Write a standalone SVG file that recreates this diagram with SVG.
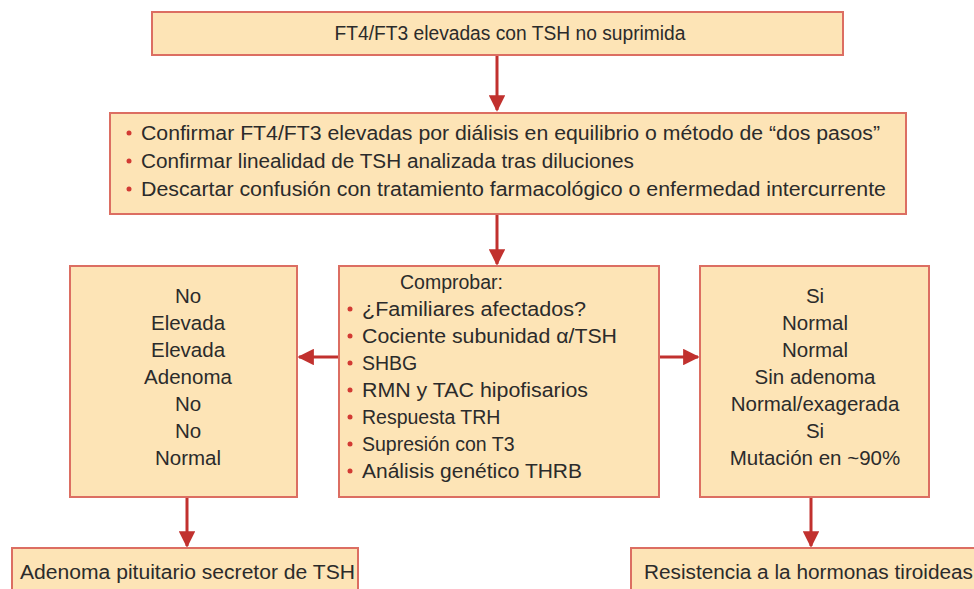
<svg xmlns="http://www.w3.org/2000/svg" width="974" height="589" viewBox="0 0 974 589">
<style>
.box{fill:#FDE4B6;stroke:#DC6E62;stroke-width:2}
.t{font-family:"Liberation Sans",Arial,sans-serif;font-size:19.5px;fill:#2b2b2b}
.s{font-size:20.5px}
.c{text-anchor:middle}
.b{fill:#D23A33}
.con line{stroke:#C1312E;stroke-width:3}
</style>
<defs>
<marker id="ah" viewBox="0 0 10 10" refX="9" refY="5" markerWidth="5.5" markerHeight="5.5" orient="auto" markerUnits="strokeWidth">
<path d="M0,0 L10,5 L0,10 z" fill="#C1312E"/>
</marker>
</defs>
<rect width="974" height="589" fill="#ffffff"/>
<g class="con">
<line x1="497" y1="55" x2="497" y2="110" marker-end="url(#ah)"/>
<line x1="497" y1="214" x2="497" y2="264" marker-end="url(#ah)"/>
<line x1="339" y1="357" x2="299" y2="357" marker-end="url(#ah)"/>
<line x1="659" y1="357" x2="698" y2="357" marker-end="url(#ah)"/>
<line x1="187" y1="497" x2="187" y2="546" marker-end="url(#ah)"/>
<line x1="811" y1="497" x2="811" y2="546" marker-end="url(#ah)"/>
</g>
<g id="n1">
<rect class="box" x="152" y="12" width="691" height="43"/>
<text class="t c" x="510" y="40" textLength="351" lengthAdjust="spacingAndGlyphs">FT4/FT3 elevadas con TSH no suprimida</text>
</g>
<g id="n2">
<rect class="box" x="110" y="113" width="796" height="101"/>
<circle class="b" cx="129" cy="133" r="2.5"/>
<circle class="b" cx="129" cy="161" r="2.5"/>
<circle class="b" cx="129" cy="189" r="2.5"/>
<text class="t" x="141" y="140" textLength="739" lengthAdjust="spacingAndGlyphs">Confirmar FT4/FT3 elevadas por diálisis en equilibrio o método de “dos pasos”</text>
<text class="t" x="141" y="168" textLength="493" lengthAdjust="spacingAndGlyphs">Confirmar linealidad de TSH analizada tras diluciones</text>
<text class="t" x="141" y="196" textLength="745" lengthAdjust="spacingAndGlyphs">Descartar confusión con tratamiento farmacológico o enfermedad intercurrente</text>
</g>
<g id="n3">
<rect class="box" x="70" y="266" width="227" height="231"/>
<text class="t s c" x="188" y="303">No</text>
<text class="t s c" x="188" y="330">Elevada</text>
<text class="t s c" x="188" y="357">Elevada</text>
<text class="t s c" x="188" y="384">Adenoma</text>
<text class="t s c" x="188" y="411">No</text>
<text class="t s c" x="188" y="438">No</text>
<text class="t s c" x="188" y="465">Normal</text>
</g>
<g id="n4">
<rect class="box" x="339" y="266" width="320" height="231"/>
<text class="t" x="400" y="289">Comprobar:</text>
<circle class="b" cx="350" cy="309" r="2.5"/>
<circle class="b" cx="350" cy="336" r="2.5"/>
<circle class="b" cx="350" cy="363" r="2.5"/>
<circle class="b" cx="350" cy="390" r="2.5"/>
<circle class="b" cx="350" cy="417" r="2.5"/>
<circle class="b" cx="350" cy="444" r="2.5"/>
<circle class="b" cx="350" cy="471" r="2.5"/>
<text class="t" x="362" y="316" textLength="224" lengthAdjust="spacingAndGlyphs">¿Familiares afectados?</text>
<text class="t" x="362" y="343" textLength="255" lengthAdjust="spacingAndGlyphs">Cociente subunidad α/TSH</text>
<text class="t" x="362" y="370">SHBG</text>
<text class="t" x="362" y="397" textLength="226" lengthAdjust="spacingAndGlyphs">RMN y TAC hipofisarios</text>
<text class="t" x="362" y="424">Respuesta TRH</text>
<text class="t" x="362" y="451">Supresión con T3</text>
<text class="t" x="362" y="478" textLength="220" lengthAdjust="spacingAndGlyphs">Análisis genético THRB</text>
</g>
<g id="n5">
<rect class="box" x="700" y="266" width="229" height="231"/>
<text class="t s c" x="815" y="303">Si</text>
<text class="t s c" x="815" y="330">Normal</text>
<text class="t s c" x="815" y="357">Normal</text>
<text class="t s c" x="815" y="384">Sin adenoma</text>
<text class="t s c" x="815" y="411">Normal/exagerada</text>
<text class="t s c" x="815" y="438">Si</text>
<text class="t s c" x="815" y="465">Mutación en ~90%</text>
</g>
<g id="n6">
<rect class="box" x="12" y="548" width="346" height="60"/>
<text class="t" x="20" y="579" textLength="335" lengthAdjust="spacingAndGlyphs">Adenoma pituitario secretor de TSH</text>
</g>
<g id="n7">
<rect class="box" x="631" y="548" width="360" height="60"/>
<text class="t" x="644" y="579" textLength="329" lengthAdjust="spacingAndGlyphs">Resistencia a la hormonas tiroideas</text>
</g>
</svg>
